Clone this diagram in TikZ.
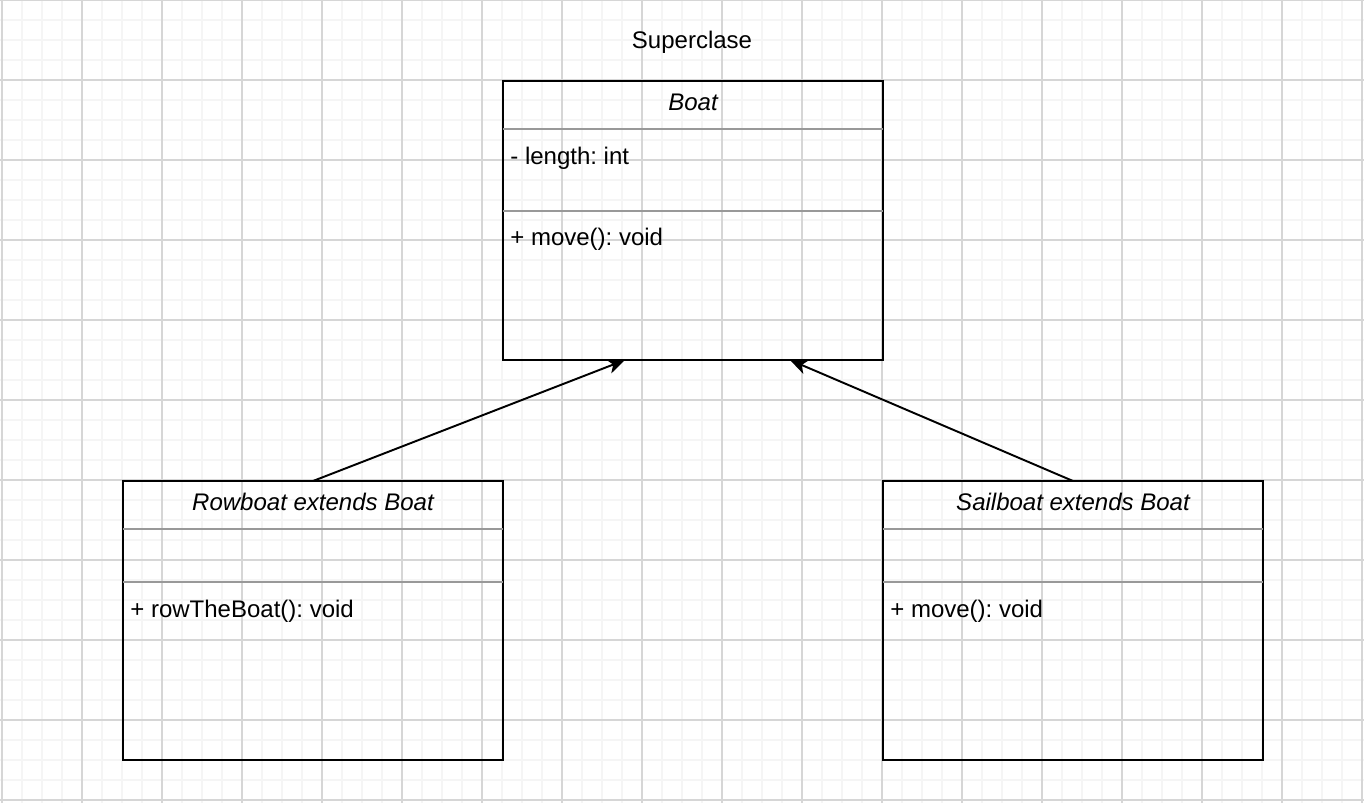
\documentclass[tikz,border=0pt]{standalone}
\usepackage{fontspec}
\setmainfont{Liberation Sans}
\usetikzlibrary{arrows.meta,positioning,calc}
\definecolor{gridlight}{HTML}{F5F5F5}
\definecolor{griddark}{HTML}{D6D6D6}
\definecolor{sepgray}{HTML}{999999}
\frenchspacing

\begin{document}
\begin{tikzpicture}
[node distance=2.42cm,>={Stealth[length=10pt,width=8.5pt,inset=2.8pt]},
class/.style =
{draw, line width=1.3pt, shape=rectangle, minimum width=7.6cm, outer sep=0pt, inner sep=0pt},
boatclass/.style = {class, minimum height=5.58cm},
subclass/.style = {class, minimum height=5.58cm},
title/.style = {anchor=base, inner sep=0pt, font=\fontsize{13.66pt}{16pt}\selectfont\itshape},
member/.style = {anchor=base west, inner sep=0pt, font=\fontsize{13.66pt}{16pt}\selectfont},
sep/.style = {draw=sepgray, line width=0.9pt},
link/.style = {draw, line width=1.1pt, ->}]
\useasboundingbox (0,0) rectangle (27.28,-16.04);
\fill[white] (0,0) rectangle (27.28,-16.04);
\begin{scope}
\clip (0,0) rectangle (27.28,-16.04);
\draw[gridlight, line width=1pt, xshift=0.04cm] (-0.4,-16.4) grid[step=0.4] (27.6,0.4);
\draw[griddark, line width=0.6pt, xshift=0.04cm] (-1.6,-17.6) grid[step=1.6] (28.8,1.6);
\end{scope}

\node [member, anchor=center](super) at (13.84,-0.84){Superclase};

\node [boatclass](Boat) at (13.86,-4.41){};
\node [subclass, below left=2.42cm and 0cm of Boat](Row){};
\node [subclass, below right=2.42cm and 0cm of Boat](Sail){};

\draw [sep] ($(Boat.north west)+(0,-0.96)$) -- ($(Boat.north east)+(0,-0.96)$);
\draw [sep] ($(Boat.north west)+(0,-2.6)$) -- ($(Boat.north east)+(0,-2.6)$);
\draw [sep] ($(Row.north west)+(0,-0.96)$) -- ($(Row.north east)+(0,-0.96)$);
\draw [sep] ($(Row.north west)+(0,-2.02)$) -- ($(Row.north east)+(0,-2.02)$);
\draw [sep] ($(Sail.north west)+(0,-0.96)$) -- ($(Sail.north east)+(0,-0.96)$);
\draw [sep] ($(Sail.north west)+(0,-2.02)$) -- ($(Sail.north east)+(0,-2.02)$);

\node [title] at ($(Boat.north)+(0,-0.58)$)(BoatT){Boat};
\node [member] at ($(Boat.north west)+(0.14,-1.66)$)(BoatA){- length: int};
\node [member] at ($(Boat.north west)+(0.14,-3.28)$)(BoatM){+ move(): void};

\node [title] at ($(Row.north)+(0,-0.58)$)(RowT){Rowboat extends Boat};
\node [member] at ($(Row.north west)+(0.14,-2.72)$)(RowM){+ rowTheBoat(): void};

\node [title] at ($(Sail.north)+(0,-0.58)$)(SailT){Sailboat extends Boat};
\node [member] at ($(Sail.north west)+(0.14,-2.72)$)(SailM){+ move(): void};

\coordinate (BoatL) at ($(Boat.south west)+(2.44,0)$);
\coordinate (BoatR) at ($(Boat.south west)+(5.74,0)$);

\path
(Row.north)edge[link](BoatL)
(Sail.north)edge[link](BoatR)
;

\end{tikzpicture}
\end{document}
